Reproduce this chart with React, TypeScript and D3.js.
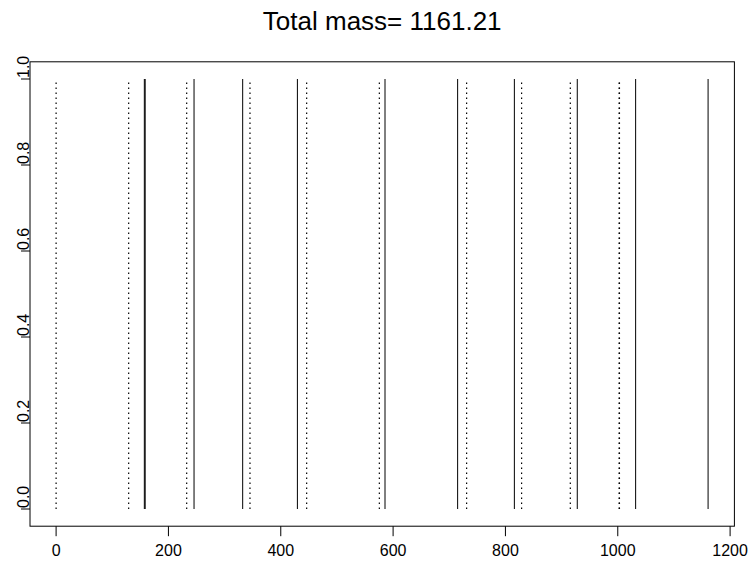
import React from "react";
import * as d3 from "d3";

const title = "Total mass= 1161.21";
const totalMass = 1161.21;
const dottedPositions = [0, 129.2, 232.5, 345.2, 446.1, 575.5, 730.9, 828.8, 915.5, 1002.5, 1003.0];
const solidPositions = [157.1, 158.6, 245.6, 332.2, 429.6, 585.6, 714.9, 815.9, 927.9, 1031.8, 1160.8];
const xTicks = [0, 200, 400, 600, 800, 1000, 1200];
const yTicks = [0, 0.2, 0.4, 0.6, 0.8, 1.0];

const W = 754;
const H = 562;

export default function App() {
  const x = d3.scaleLinear().domain([0, 1200]).range([56.1, 730.1]);
  const y = d3.scaleLinear().domain([0, 1]).range([509, 79]);
  const pad = 0.04 * totalMass;
  const bx0 = x(-pad);
  const bx1 = x(totalMass + pad);
  const by0 = y(1.04);
  const by1 = y(-0.04);
  const font = "'Liberation Sans', Arial, Helvetica, sans-serif";
  return (
    <svg width={W} height={H} style={{ position: "absolute", left: 0, top: 0, background: "#fff" }}>
      <rect x={0} y={0} width={W} height={H} fill="#fff" />
      <text x={(bx0 + bx1) / 2} y={30} textAnchor="middle" fontFamily={font} fontSize={26} fill="#000">
        {title}
      </text>
      {dottedPositions.map((d, i) => (
        <line key={"d" + i} x1={x(d)} x2={x(d)} y1={y(0)} y2={y(1)} stroke="#000" strokeWidth={1.2} strokeDasharray="1.5,3.5" />
      ))}
      {solidPositions.map((d, i) => (
        <line key={"s" + i} x1={x(d)} x2={x(d)} y1={y(0)} y2={y(1)} stroke="#000" strokeWidth={1} />
      ))}
      <rect x={bx0} y={by0} width={bx1 - bx0} height={by1 - by0} fill="none" stroke="#000" strokeWidth={1} />
      {xTicks.map((t) => (
        <g key={"xt" + t}>
          <line x1={x(t)} x2={x(t)} y1={by1} y2={by1 + 10} stroke="#000" />
          <text x={x(t)} y={556} textAnchor="middle" fontFamily={font} fontSize={16} fill="#000">
            {t}
          </text>
        </g>
      ))}
      {yTicks.map((t) => (
        <g key={"yt" + t}>
          <line x1={bx0} x2={bx0 - 9} y1={y(t)} y2={y(t)} stroke="#000" />
          <text
            transform={`translate(${28.5},${y(t) - 1}) rotate(-90)`}
            textAnchor="start"
            fontFamily={font}
            fontSize={16}
            fill="#000"
          >
            {t.toFixed(1)}
          </text>
        </g>
      ))}
    </svg>
  );
}
